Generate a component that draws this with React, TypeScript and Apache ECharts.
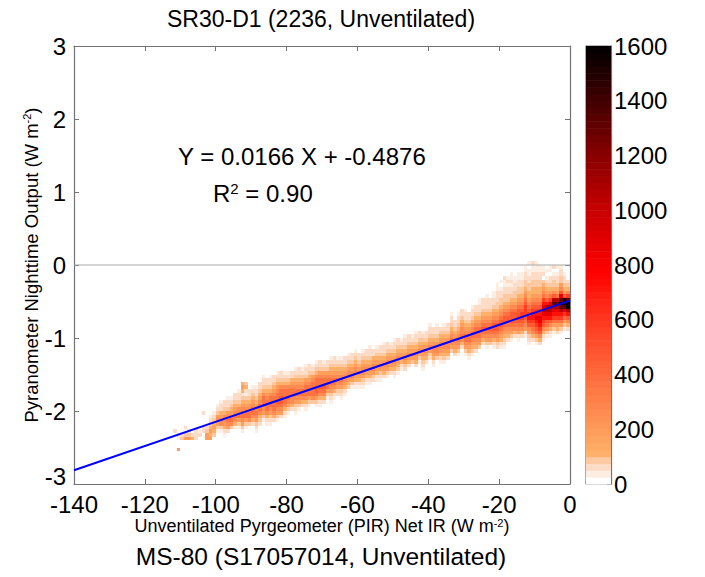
import React, { useEffect, useRef } from "react";
import * as echarts from "echarts";

// 2-D histogram: bins are 1 W m^-2 wide (x) and 0.05 W m^-2 tall (y).
const BIN_W = 1;
const BIN_H = 0.05;

// Count level per character in the column strings ('.' = empty bin).
const LEVEL_CHARS = ".123456789ABCDE";
const levelCounts = [0, 35, 60, 85, 115, 175, 260, 360, 470, 590, 720, 850, 1050, 1300, 1550];

// Each column: [bin left edge x, upper edge of first bin, counts downward]
type Column = [number, number, string];

const columnsFar: Column[] = [
  [-112, -2.25, "2"],
  [-111, -2.3, "21..5"],
  [-110, -2.3, "23"],
  [-109, -2.2, "2.35"],
  [-108, -2.25, "235"],
  [-107, -2.3, "24"],
  [-106, -2.25, "222"],
  [-105, -2.25, "12"],
  [-104, -2.0, "2...22"],
  [-103, -2.2, "2355"],
  [-102, -2.05, "1234545"],
  [-101, -2.0, "1234543"],
  [-100, -1.9, "12356531"],
  [-99, -1.85, "122456631"],
  [-98, -1.85, "2234665421"],
  [-97, -1.8, "1223567652"],
  [-96, -1.8, "123456763"],
  [-95, -1.75, "2234567641"],
  [-94, -1.7, "12234667531"],
  [-93, -1.6, "45423456776531"],
  [-92, -1.6, "3421345677531"],
  [-91, -1.7, "2234567763"],
  [-90, -1.65, "12345677642"],
];

const columnsMid: Column[] = [
  [-89, -1.65, "1223456765321"],
  [-88, -1.6, "223456776432"],
  [-87, -1.5, "1223467776531"],
  [-86, -1.55, "2234567776421"],
  [-85, -1.5, "12234677765321"],
  [-84, -1.5, "2234567777642"],
  [-83, -1.45, "12345677876531"],
  [-82, -1.45, "2234677887652"],
  [-81, -1.45, "1234677776421"],
  [-80, -1.45, "123467776531"],
  [-79, -1.45, "22456776642"],
  [-78, -1.4, "1234567765321"],
  [-77, -1.4, "223456776531"],
  [-76, -1.4, "12345677642"],
  [-75, -1.35, "1223567776421"],
  [-74, -1.35, "223456777531"],
  [-73, -1.35, "12356777763"],
  [-72, -1.3, "1234677787531"],
  [-71, -1.3, "2235677876421"],
  [-70, -1.3, "123567787642"],
  [-69, -1.3, "22356777531"],
  [-68, -1.25, "1234567765321"],
  [-67, -1.25, "223456776421"],
  [-66, -1.25, "12345676532"],
];

const columnsNear: Column[] = [
  [-65, -1.25, "123456765321"],
  [-64, -1.25, "22345665421"],
  [-63, -1.2, "1234566543"],
  [-62, -1.2, "2234566531"],
  [-61, -1.15, "12345665421"],
  [-60, -1.2, "2234565421"],
  [-59, -1.15, "12345665321"],
  [-58, -1.15, "2234565421"],
  [-57, -1.1, "12234565421"],
  [-56, -1.15, "224566532"],
  [-55, -1.1, "1234565421"],
  [-54, -1.1, "2234565321"],
  [-53, -1.05, "1223456542"],
  [-52, -1.05, "2234566531"],
  [-51, -1.05, "123456542"],
  [-50, -1.0, "12234565421"],
  [-49, -1.0, "2234565431"],
  [-48, -1.0, "123455421"],
  [-47, -0.95, "1223456532"],
  [-46, -0.95, "223456542"],
  [-45, -0.95, "12345653"],
  [-44, -0.9, "1223456542"],
  [-43, -0.9, "223456531"],
];

const columnsRising: Column[] = [
  [-42, -0.9, "12345654321"],
  [-41, -0.9, "223456542"],
  [-40, -0.8, "1223456532"],
  [-39, -0.85, "22345665421"],
  [-38, -0.8, "1223456653"],
  [-37, -0.85, "2345665421"],
  [-36, -0.8, "12345665431"],
  [-35, -0.8, "2234566542"],
  [-34, -0.65, "12234567653"],
  [-33, -0.75, "2234566542"],
  [-32, -0.65, "122345676531"],
  [-31, -0.6, "22345667642"],
  [-30, -0.6, "1223456776531"],
  [-29, -0.65, "2234567765421"],
  [-28, -0.55, "12234567765431"],
  [-27, -0.55, "2234567776542"],
  [-26, -0.45, "11223456777653"],
  [-25, -0.45, "2223456787642"],
  [-24, -0.4, "122234567876531"],
  [-23, -0.45, "2223456787653"],
  [-22, -0.35, "1122345678876421"],
  [-21, -0.25, "112223345678876532"],
];

const columnsPlume: Column[] = [
  [-20, -0.2, "1.12233456788765421"],
  [-19, -0.15, "21122334567887654321"],
  [-18, -0.15, "121223345678876542"],
  [-17, -0.1, "1121223456788876531"],
  [-16, -0.15, "11223345678887642"],
  [-15, -0.1, "1122334567889876521"],
  [-14, -0.1, "112233456789987642"],
  [-13, 0.0, "11223345678999876521"],
  [-12, 0.05, "1.1122334456789A9865321"],
  [-11, 0.05, "21122334456789AA987642"],
  [-10, 0.05, "11122334456789ABA987531"],
  [-9, 0.0, "1122334456789ABBA98642"],
  [-8, 0.0, "112.345679ABCBA986421"],
  [-7, -0.05, "1.1234568ACCBA87531"],
  [-6, 0.0, "11.2234579BCCBA86421"],
  [-5, 0.0, "2.1233468CDCBA97531"],
  [-4, 0.0, "1.1223457CDCBA97542"],
  [-3, 0.0, "12233568BDEDCA97531"],
  [-2, -0.1, "1223458EEDB97531"],
  [-1, -0.2, "23469DEECA8642"],
];

// Linear fit shown in the annotation
const fitSlope = 0.0166;
const fitIntercept = -0.4876;
const rSquared = 0.9;

// Axis ranges
const xRange = [-140, 0];
const yRange = [-3, 3];
const countRange = [0, 1600];

// Colormap: 64 bands of 25 counts each
const BAND = 25;
const lowBands = ["#ffffff", "#fdeee4", "#fcdcc6", "#fcc9a2"];
const colorStops: [number, string][] = [
  [100, "#fdb46c"],
  [200, "#fe9a5a"],
  [400, "#ff6a3c"],
  [600, "#ff3820"],
  [775, "#ff0000"],
  [1000, "#c80000"],
  [1200, "#880000"],
  [1400, "#420000"],
  [1600, "#000000"],
];

function hexToRgb(h: string): number[] {
  const n = parseInt(h.slice(1), 16);
  return [(n >> 16) & 255, (n >> 8) & 255, n & 255];
}

function stopColor(v: number): string {
  if (v <= colorStops[0][0]) return colorStops[0][1];
  for (let i = 1; i < colorStops.length; i++) {
    const [v1, c1] = colorStops[i];
    if (v <= v1) {
      const [v0, c0] = colorStops[i - 1];
      const t = (v - v0) / (v1 - v0);
      const a = hexToRgb(c0);
      const b = hexToRgb(c1);
      const m = a.map((x, k) => Math.round(x + (b[k] - x) * t));
      return `rgb(${m[0]},${m[1]},${m[2]})`;
    }
  }
  return colorStops[colorStops.length - 1][1];
}

const bandColors: string[] = Array.from({ length: 64 }, (_, i) =>
  i < lowBands.length ? lowBands[i] : stopColor(i * BAND + BAND / 2)
);

function colorForCount(c: number): string {
  const b = Math.max(0, Math.min(63, Math.floor(c / BAND)));
  return bandColors[b];
}

function buildCells(): number[][] {
  const out: number[][] = [];
  const all = [...columnsFar, ...columnsMid, ...columnsNear, ...columnsRising, ...columnsPlume];
  for (const [x, yTop, levels] of all) {
    for (let i = 0; i < levels.length; i++) {
      const lvl = LEVEL_CHARS.indexOf(levels[i]);
      if (lvl <= 0) continue;
      const yLow = Math.round((yTop - (i + 1) * BIN_H) * 100) / 100;
      out.push([x, yLow, levelCounts[lvl]]);
    }
  }
  return out;
}

const FONT = "'Liberation Sans', Arial, Helvetica, sans-serif";
const AXIS_GREY = "#737373";

// Plot box in pixels
const PLOT = { left: 74, top: 46, width: 496, height: 438 };

export default function App() {
  const ref = useRef<HTMLDivElement>(null);

  useEffect(() => {
    if (!ref.current) return;
    const chart = echarts.init(ref.current, null, { renderer: "svg" });

    const cells = buildCells();
    const bands = bandColors.map((_, i) => [i]);

    const axisLine = { show: true, onZero: false, lineStyle: { color: AXIS_GREY, width: 1.2 } };
    const axisTick = { show: true, inside: true, length: 5, lineStyle: { color: AXIS_GREY, width: 1 } };
    const tickLabel = { color: "#000", fontSize: 24, fontFamily: FONT };
    const plain = (v: number) => String(v);

    const option: any = {
      animation: false,
      backgroundColor: "#ffffff",
      grid: [
        { ...PLOT },
        {
          left: 586,
          top: 46,
          width: 25,
          height: 438,
          show: true,
          borderColor: AXIS_GREY,
          borderWidth: 1.2,
          backgroundColor: "transparent",
        },
      ],
      xAxis: [
        {
          gridIndex: 0,
          type: "value",
          min: xRange[0],
          max: xRange[1],
          interval: 20,
          position: "bottom",
          axisLine,
          axisTick,
          axisLabel: { ...tickLabel, margin: 8, formatter: plain },
          splitLine: { show: false },
        },
        {
          gridIndex: 0,
          type: "value",
          min: xRange[0],
          max: xRange[1],
          interval: 20,
          position: "top",
          axisLine,
          axisTick,
          axisLabel: { show: false },
          splitLine: { show: false },
        },
        { gridIndex: 1, type: "value", min: 0, max: 1, show: false },
      ],
      yAxis: [
        {
          gridIndex: 0,
          type: "value",
          min: yRange[0],
          max: yRange[1],
          interval: 1,
          position: "left",
          axisLine,
          axisTick,
          // the lowest label is drawn separately, a little higher, to clear the x labels
          axisLabel: { ...tickLabel, margin: 8, formatter: plain, showMinLabel: false },
          splitLine: { show: false },
        },
        {
          gridIndex: 0,
          type: "value",
          min: yRange[0],
          max: yRange[1],
          interval: 1,
          position: "right",
          axisLine,
          axisTick,
          axisLabel: { show: false },
          splitLine: { show: false },
        },
        {
          gridIndex: 1,
          type: "value",
          min: countRange[0],
          max: countRange[1],
          interval: 200,
          position: "right",
          axisLine,
          axisTick: { show: true, inside: true, length: 4, lineStyle: { color: AXIS_GREY } },
          axisLabel: { ...tickLabel, margin: 3, formatter: plain },
          splitLine: { show: false },
        },
      ],
      series: [
        {
          type: "custom",
          xAxisIndex: 0,
          yAxisIndex: 0,
          data: cells,
          encode: { x: 0, y: 1 },
          silent: true,
          clip: true,
          z: 2,
          renderItem: (_params: any, api: any) => {
            const x = api.value(0);
            const y = api.value(1);
            const c = api.value(2);
            const p0 = api.coord([x, y + BIN_H]);
            const p1 = api.coord([x + BIN_W, y]);
            const x0 = Math.round(p0[0]);
            const y0 = Math.round(p0[1]);
            const x1 = Math.round(p1[0]);
            const y1 = Math.round(p1[1]);
            return {
              type: "rect",
              shape: { x: x0, y: y0, width: x1 - x0, height: y1 - y0 },
              style: { fill: colorForCount(c) },
            };
          },
        },
        {
          type: "line",
          xAxisIndex: 0,
          yAxisIndex: 0,
          data: [
            [xRange[0], 0],
            [xRange[1], 0],
          ],
          symbol: "none",
          silent: true,
          lineStyle: { color: "#a8a8a8", width: 1.2 },
          z: 3,
        },
        {
          type: "line",
          xAxisIndex: 0,
          yAxisIndex: 0,
          data: [
            [xRange[0], fitSlope * xRange[0] + fitIntercept],
            [xRange[1], fitSlope * xRange[1] + fitIntercept],
          ],
          symbol: "none",
          silent: true,
          lineStyle: { color: "#0000ff", width: 2 },
          z: 4,
        },
        {
          type: "custom",
          xAxisIndex: 2,
          yAxisIndex: 2,
          data: bands,
          encode: { y: 0 },
          silent: true,
          renderItem: (_params: any, api: any) => {
            const i = api.value(0);
            const p0 = api.coord([0, (i + 1) * BAND]);
            const p1 = api.coord([1, i * BAND]);
            return {
              type: "rect",
              shape: { x: p0[0], y: p0[1], width: p1[0] - p0[0], height: p1[1] - p0[1] + 0.5 },
              style: { fill: bandColors[i] },
            };
          },
        },
      ],
      graphic: [
        {
          type: "text",
          x: PLOT.left - 8,
          y: PLOT.top + PLOT.height - 8,
          style: {
            text: String(yRange[0]),
            fontSize: 24,
            fontFamily: FONT,
            fill: "#000",
            align: "right",
            verticalAlign: "middle",
            textAlign: "right",
            textVerticalAlign: "middle",
          },
        },
        {
          type: "text",
          x: 321,
          y: 19,
          style: {
            text: "SR30-D1 (2236, Unventilated)",
            fontSize: 23,
            fontFamily: FONT,
            fill: "#000",
            align: "center",
            verticalAlign: "middle",
            textAlign: "center",
            textVerticalAlign: "middle",
          },
        },
        {
          type: "text",
          x: 321,
          y: 556,
          style: {
            text: "MS-80 (S17057014, Unventilated)",
            fontSize: 24.5,
            fontFamily: FONT,
            fill: "#000",
            align: "center",
            verticalAlign: "middle",
            textAlign: "center",
            textVerticalAlign: "middle",
          },
        },
        {
          type: "text",
          x: 322,
          y: 526,
          style: {
            text: "Unventilated Pyrgeometer (PIR) Net IR (W m{sup|-2})",
            fontSize: 18,
            fontFamily: FONT,
            fill: "#000",
            align: "center",
            verticalAlign: "middle",
            textAlign: "center",
            textVerticalAlign: "middle",
            rich: { sup: { fontSize: 11, fontFamily: FONT, fill: "#000", verticalAlign: "top" } },
          },
        },
        {
          type: "text",
          x: 31,
          y: 265,
          rotation: Math.PI / 2,
          style: {
            text: "Pyranometer Nighttime Output (W m{sup|-2})",
            fontSize: 18.5,
            fontFamily: FONT,
            fill: "#000",
            align: "center",
            verticalAlign: "middle",
            textAlign: "center",
            textVerticalAlign: "middle",
            rich: { sup: { fontSize: 11, fontFamily: FONT, fill: "#000", verticalAlign: "top" } },
          },
        },
        {
          type: "text",
          x: 178,
          y: 156,
          style: {
            text: `Y = ${fitSlope.toFixed(4)} X + ${fitIntercept.toFixed(4)}`,
            fontSize: 24,
            fontFamily: FONT,
            fill: "#000",
            align: "left",
            verticalAlign: "middle",
            textAlign: "left",
            textVerticalAlign: "middle",
          },
        },
        {
          type: "text",
          x: 213,
          y: 193,
          style: {
            text: `R{sup|2} = ${rSquared.toFixed(2)}`,
            fontSize: 24,
            fontFamily: FONT,
            fill: "#000",
            align: "left",
            verticalAlign: "middle",
            textAlign: "left",
            textVerticalAlign: "middle",
            rich: { sup: { fontSize: 15, fontFamily: FONT, fill: "#000", verticalAlign: "top" } },
          },
        },
      ],
    };

    chart.setOption(option);
    return () => chart.dispose();
  }, []);

  return (
    <div
      ref={ref}
      style={{ position: "fixed", left: 0, top: 0, width: 705, height: 577, background: "#fff" }}
    />
  );
}
